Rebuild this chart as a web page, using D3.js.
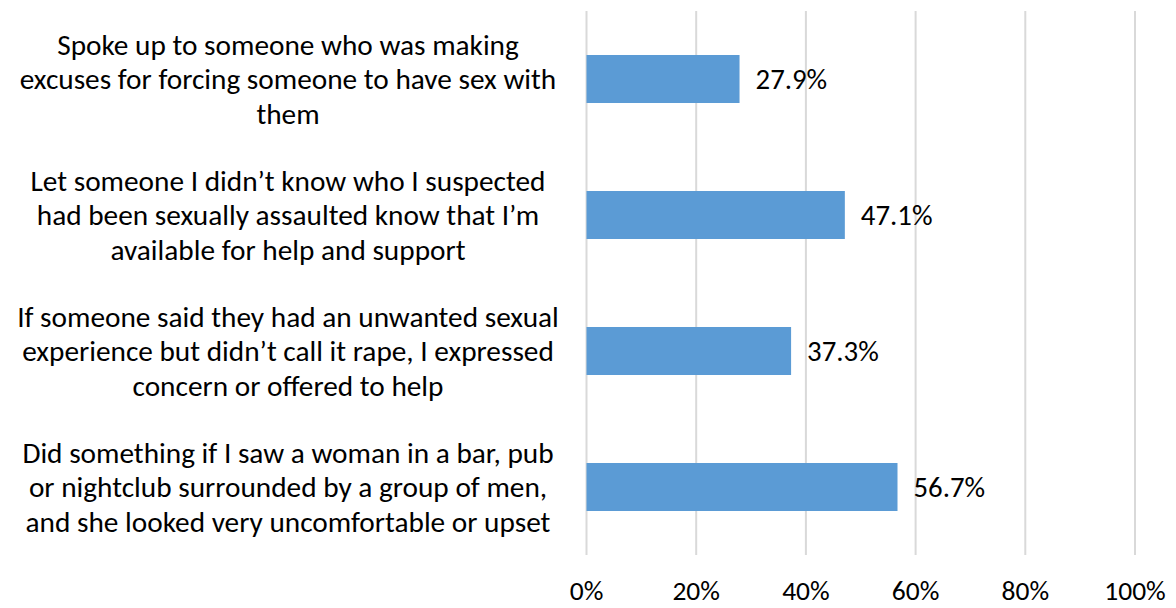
<!DOCTYPE html>
<html><head><meta charset="utf-8">
<script src="https://cdn.jsdelivr.net/npm/d3@7"></script>
<style>body{margin:0;background:#fff;} svg{display:block;} text{font-family:Carlito,Lato,"Open Sans",sans-serif;fill:#000;}</style>
</head><body>
<svg id="c" width="1176" height="608"></svg>
<script>
const categories = [
  ["Spoke up to someone who was making", "excuses for forcing someone to have sex with", "them"],
  ["Let someone I didn\u2019t know who I suspected", "had been sexually assaulted know that I\u2019m", "available for help and support"],
  ["If someone said they had an unwanted sexual", "experience but didn\u2019t call it rape, I expressed", "concern or offered to help"],
  ["Did something if I saw a woman in a bar, pub", "or nightclub surrounded by a group of men,", "and she looked very uncomfortable or upset"]
];
const values = [27.9, 47.1, 37.3, 56.7];
const tickValues = [0, 20, 40, 60, 80, 100];
const tickLabels = ["0%", "20%", "40%", "60%", "80%", "100%"];

const svg = d3.select("#c");
const x = d3.scaleLinear().domain([0, 100]).range([586.5, 1135]);
const y = d3.scaleBand().domain(d3.range(categories.length)).range([11, 555]).paddingInner(0.647).paddingOuter(0.3235);

svg.append("g").selectAll("line").data(tickValues).join("line")
  .attr("x1", d => x(d)).attr("x2", d => x(d)).attr("y1", 11).attr("y2", 555)
  .attr("stroke", "#D9D9D9").attr("stroke-width", 2);

svg.append("g").selectAll("rect").data(values).join("rect")
  .attr("x", x(0)).attr("y", (d, i) => y(i))
  .attr("width", d => x(d) - x(0)).attr("height", y.bandwidth())
  .attr("fill", "#5B9BD5");

svg.append("g").selectAll("text").data(values).join("text")
  .attr("x", d => x(d) + 16).attr("y", (d, i) => y(i) + y.bandwidth() / 2)
  .attr("dy", "0.35em").attr("font-size", 28.8)
  .text(d => d.toFixed(1) + "%");

svg.append("g").selectAll("text").data(tickValues).join("text")
  .attr("x", d => x(d)).attr("y", 600).attr("text-anchor", "middle").attr("font-size", 27.5)
  .text((d, i) => tickLabels[i]);

const lab = svg.append("g").selectAll("text").data(categories).join("text")
  .attr("text-anchor", "middle").attr("font-size", 29.3);
lab.each(function(lines, i) {
  const cy = y(i) + y.bandwidth() / 2;
  d3.select(this).selectAll("tspan").data(lines).join("tspan")
    .attr("x", 288).attr("y", (d, j) => cy + (j - 1) * 34.5).attr("dy", "0.35em")
    .text(d => d);
});
</script>
</body></html>
